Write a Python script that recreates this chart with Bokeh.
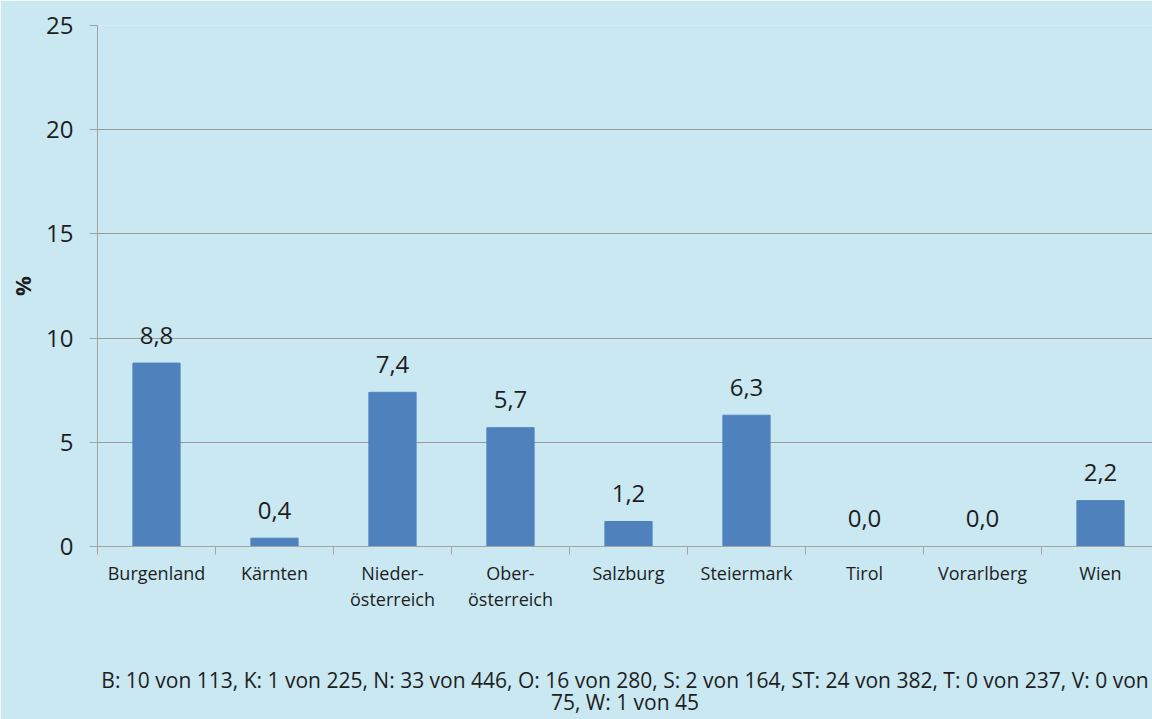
from bokeh.plotting import figure
from bokeh.models import Range1d, FixedTicker
from bokeh.embed import file_html
from bokeh.resources import INLINE
from bokeh.core.properties import value

# Share of positive samples per federal state (%)
regions = ["Burgenland", "Kärnten", "Nieder-\nösterreich", "Ober-\nösterreich",
           "Salzburg", "Steiermark", "Tirol", "Vorarlberg", "Wien"]
shares = [8.8, 0.4, 7.4, 5.7, 1.2, 6.3, 0.0, 0.0, 2.2]
y_ticks = [0, 5, 10, 15, 20, 25]
note_lines = [
    "B: 10 von 113, K: 1 von 225, N: 33 von 446, O: 16 von 280, S: 2 von 164, "
    "ST: 24 von 382, T: 0 von 237, V: 0 von",
    "75, W: 1 von 45",
]

BG = "#C9E8F2"
BAR = "#4F81BD"
GRID = "#9A9A9A"
AXIS = "#A3A3A3"
TEXT = "#1E1E1E"
FONT = "Open Sans"

centers = [i + 0.5 for i in range(len(regions))]
bounds = list(range(len(regions)))
labels = [f"{v:.1f}".replace(".", ",") for v in shares]

STEP = 118.0
LEFT = 97
p = figure(width=1152, height=719, output_backend="svg", toolbar_location=None,
           x_range=Range1d(0, (1152 - LEFT) / STEP), y_range=Range1d(0, 25),
           min_border_left=LEFT, min_border_right=0, min_border_top=25,
           min_border_bottom=173,
           background_fill_color=BG, border_fill_color=BG, outline_line_color=None)

p.vbar(x=centers, top=shares, width=0.4, fill_color=BAR, line_color=BAR)
p.text(x=centers, y=shares, text=labels, text_align="center",
       text_baseline="alphabetic", y_offset=-28, text_font=value(FONT),
       text_font_size="24px", text_color=TEXT)

# y axis
ya = p.yaxis[0]
ya.ticker = FixedTicker(ticks=y_ticks)
ya.major_tick_out = 8
ya.major_tick_in = 0
ya.minor_tick_line_color = None
ya.axis_line_color = AXIS
ya.major_tick_line_color = AXIS
ya.major_label_text_font = FONT
ya.major_label_text_font_size = "24px"
ya.major_label_text_color = TEXT
ya.major_label_standoff = 16
ya.axis_label = "%"
ya.axis_label_text_font = FONT
ya.axis_label_text_font_size = "22px"
ya.axis_label_text_font_style = "bold"
ya.axis_label_text_color = TEXT
ya.axis_label_standoff = 6

p.ygrid.ticker = FixedTicker(ticks=y_ticks)
p.ygrid.grid_line_color = GRID
p.xgrid.grid_line_color = None

# x axis: names under the bars, tick marks between categories,
# sample counts as the axis caption
xa = p.xaxis[0]
xa.ticker = FixedTicker(ticks=centers, minor_ticks=bounds)
xa.major_label_overrides = {c: r for c, r in zip(centers, regions)}
xa.axis_line_color = AXIS
xa.major_tick_line_color = None
xa.major_tick_out = 8
xa.major_tick_in = 0
xa.minor_tick_line_color = AXIS
xa.minor_tick_out = 8
xa.minor_tick_in = 0
xa.major_label_text_font = FONT
xa.major_label_text_font_size = "18px"
xa.major_label_text_color = TEXT
xa.major_label_text_line_height = 1.1
xa.major_label_standoff = 6
xa.axis_label = "\n".join(note_lines)
xa.axis_label_text_font = FONT
xa.axis_label_text_font_size = "21px"
xa.axis_label_text_font_style = "normal"
xa.axis_label_text_color = TEXT
xa.axis_label_text_line_height = 0.78
xa.axis_label_standoff = 52

open("out.html", "w").write(file_html(p, INLINE))
